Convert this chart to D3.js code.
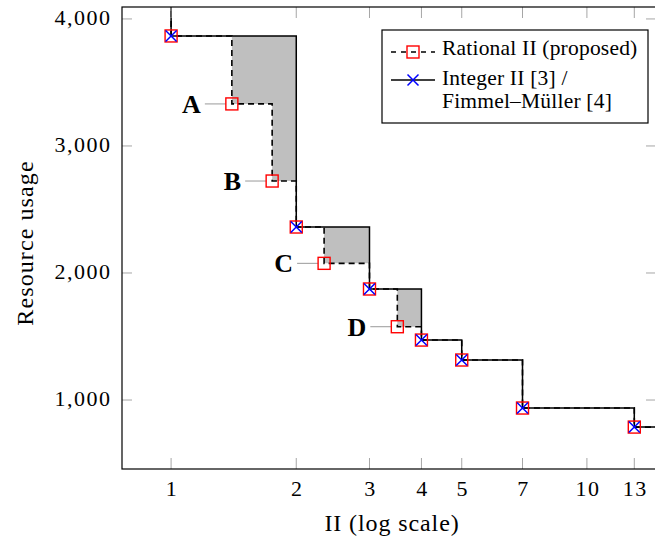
<!DOCTYPE html>
<html>
<head>
<meta charset="utf-8">
<script src="https://cdn.jsdelivr.net/npm/d3@7"></script>
<style>
  body { margin: 0; background: #fff; }
  svg text { font-family: "Liberation Serif", "Times New Roman", serif; }
</style>
</head>
<body>
<div id="chart"></div>
<script>
// data
var intII    = [1, 2, 3, 4, 5, 7, 13];
var intUsage = [3866, 2362, 1874, 1472, 1315, 937, 787];
var ratII    = [1, 1.4, 1.75, 2, 7 / 3, 3, 3.5, 4, 5, 7, 13];
var ratUsage = [3866, 3331, 2724, 2362, 2076, 1874, 1577, 1472, 1315, 937, 787];
var pointNames = ["A", "B", "C", "D"];
var xTicks = [1, 2, 3, 4, 5, 7, 10, 13];
var yTicks = [1000, 2000, 3000, 4000];

var width = 655, height = 540;
var plotLeft = 122, plotRight = 656, plotTop = 7, plotBottom = 469;

var x = d3.scaleLog().domain([0.762, 14.66]).range([plotLeft, plotRight]);
var y = d3.scaleLinear().domain([457, 4094]).range([plotBottom, plotTop]);

var svg = d3.select("#chart").append("svg")
    .attr("width", width)
    .attr("height", height);

svg.append("defs").append("clipPath").attr("id", "plot-clip")
  .append("rect")
    .attr("x", plotLeft).attr("y", plotTop)
    .attr("width", plotRight - plotLeft).attr("height", plotBottom - plotTop);

function pairs(xs, ys) {
    return xs.map(function(v, i) { return [v, ys[i]]; });
}
function stepAt(xs, ys, v) {
    var val = ys[0];
    xs.forEach(function(d, i) { if (d <= v) val = ys[i]; });
    return val;
}
// extend the staircase beyond the plot so it leaves through the border
function extended(xs, ys) {
    var p = pairs(xs, ys);
    p.unshift([x.domain()[0], y.domain()[1] + 1000]);
    p.push([x.domain()[1], ys[ys.length - 1]]);
    return p;
}

var plot = svg.append("g").attr("clip-path", "url(#plot-clip)");

// gray area between the two staircases
var allX = Array.from(new Set(intII.concat(ratII))).sort(d3.ascending);
var gapData = allX.map(function(v) {
    return {x: v, r: stepAt(ratII, ratUsage, v), i: stepAt(intII, intUsage, v)};
});
var area = d3.area()
    .curve(d3.curveStepAfter)
    .x(function(d) { return x(d.x); })
    .y0(function(d) { return y(d.r); })
    .y1(function(d) { return y(d.i); });
plot.append("path")
    .datum(gapData)
    .attr("d", area)
    .style("fill", "#bfbfbf");

var line = d3.line()
    .curve(d3.curveStepAfter)
    .x(function(d) { return x(d[0]); })
    .y(function(d) { return y(d[1]); });

plot.append("path")
    .datum(extended(intII, intUsage))
    .attr("d", line)
    .style("fill", "none")
    .style("stroke", "#000")
    .style("stroke-width", 1.5);

plot.append("path")
    .datum(extended(ratII, ratUsage))
    .attr("d", line)
    .style("fill", "none")
    .style("stroke", "#000")
    .style("stroke-width", 1.6)
    .style("stroke-dasharray", "6,4");

// axes box and ticks
var tickColor = "#a6a6a6";
var frame = svg.append("g");
xTicks.forEach(function(t) {
    frame.append("line").attr("x1", x(t)).attr("x2", x(t)).attr("y1", plotBottom).attr("y2", plotBottom - 11)
        .style("stroke", tickColor).style("stroke-width", 1);
    frame.append("line").attr("x1", x(t)).attr("x2", x(t)).attr("y1", plotTop).attr("y2", plotTop + 11)
        .style("stroke", tickColor).style("stroke-width", 1);
    frame.append("text")
        .attr("x", x(t) + 1).attr("y", 496)
        .attr("text-anchor", "middle")
        .style("font-size", "22px")
        .style("letter-spacing", "1.5px")
        .text(t);
});
yTicks.forEach(function(t) {
    frame.append("line").attr("x1", plotLeft).attr("x2", plotLeft + 10).attr("y1", y(t)).attr("y2", y(t))
        .style("stroke", tickColor).style("stroke-width", 1);
    frame.append("line").attr("x1", plotRight).attr("x2", plotRight - 10).attr("y1", y(t)).attr("y2", y(t))
        .style("stroke", tickColor).style("stroke-width", 1);
    frame.append("text")
        .attr("x", 111.5).attr("y", y(t) + 6)
        .attr("text-anchor", "end")
        .style("font-size", "22px")
        .style("letter-spacing", "1.5px")
        .text(d3.format(",")(t));
});
frame.append("rect")
    .attr("x", plotLeft).attr("y", plotTop)
    .attr("width", plotRight - plotLeft).attr("height", plotBottom - plotTop)
    .style("fill", "none")
    .style("stroke", "#000")
    .style("stroke-width", 1.2);

// leader lines and letters for the rational-only points
var extra = pairs(ratII, ratUsage)
    .filter(function(d) { return intII.indexOf(d[0]) < 0; });
extra.forEach(function(d, i) {
    var px = x(d[0]), py = y(d[1]);
    svg.append("line")
        .attr("x1", px - 27).attr("x2", px - 6)
        .attr("y1", py).attr("y2", py)
        .style("stroke", "#999").style("stroke-width", 1);
    svg.append("text")
        .attr("x", px - 31).attr("y", py + 9)
        .attr("text-anchor", "end")
        .style("font-size", "26px")
        .style("font-weight", "bold")
        .text(pointNames[i]);
});

function square(g, cx, cy) {
    g.append("rect")
        .attr("x", cx - 6).attr("y", cy - 6)
        .attr("width", 12).attr("height", 12)
        .style("fill", "none")
        .style("stroke", "#ff0000")
        .style("stroke-width", 1.4);
}
function cross(g, cx, cy) {
    var s = 5.5;
    g.append("path")
        .attr("d", "M" + (cx - s) + "," + (cy - s) + "L" + (cx + s) + "," + (cy + s) +
                   "M" + (cx - s) + "," + (cy + s) + "L" + (cx + s) + "," + (cy - s))
        .style("stroke", "#0000ff")
        .style("stroke-width", 1.5)
        .style("fill", "none");
}

var marks = svg.append("g");
pairs(ratII, ratUsage).forEach(function(d) { square(marks, x(d[0]), y(d[1])); });
pairs(intII, intUsage).forEach(function(d) { cross(marks, x(d[0]), y(d[1])); });

// axis titles
svg.append("text")
    .attr("x", 392).attr("y", 531)
    .attr("text-anchor", "middle")
    .style("font-size", "24px")
    .style("letter-spacing", "0.9px")
    .text("II (log scale)");
svg.append("text")
    .attr("transform", "translate(33,243) rotate(-90)")
    .attr("text-anchor", "middle")
    .style("font-size", "24px")
    .style("letter-spacing", "1.1px")
    .text("Resource usage");

// legend
var legend = svg.append("g");
legend.append("rect")
    .attr("x", 382).attr("y", 30)
    .attr("width", 266).attr("height", 93)
    .style("fill", "#fff")
    .style("stroke", "#000")
    .style("stroke-width", 1.2);
legend.append("line")
    .attr("x1", 391).attr("x2", 435).attr("y1", 52).attr("y2", 52)
    .style("stroke", "#000").style("stroke-width", 1.5).style("stroke-dasharray", "5,5");
square(legend, 413, 52);
legend.append("line")
    .attr("x1", 391).attr("x2", 435).attr("y1", 80).attr("y2", 80)
    .style("stroke", "#000").style("stroke-width", 1.5);
cross(legend, 413, 80);
var legendLines = [["Rational II (proposed)", 55], ["Integer II [3] /", 85], ["Fimmel\u2013M\u00fcller [4]", 108]];
legendLines.forEach(function(l) {
    legend.append("text")
        .attr("x", 442).attr("y", l[1])
        .style("font-size", "21.5px")
        .style("letter-spacing", "0.2px")
        .text(l[0]);
});
</script>
</body>
</html>
